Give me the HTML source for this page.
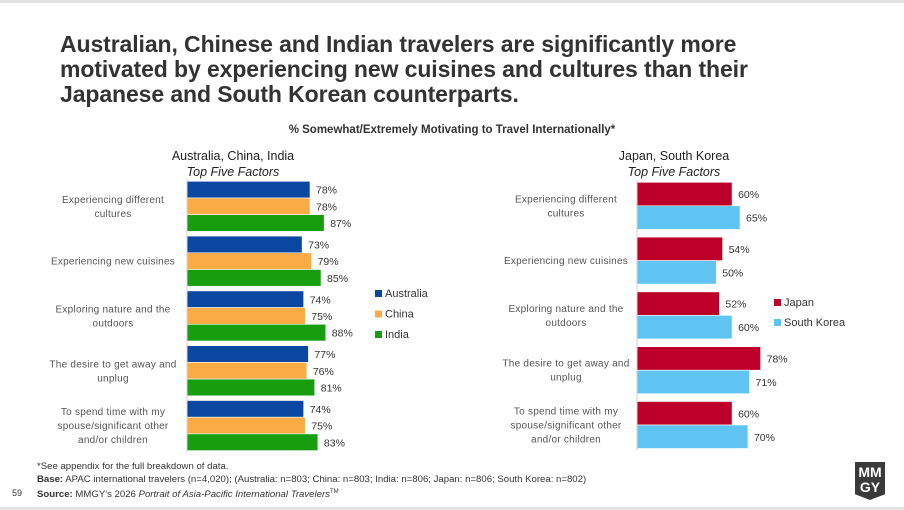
<!DOCTYPE html>
<html><head><meta charset="utf-8"><style>
body{margin:0;width:904px;height:510px;background:#fff;font-family:"Liberation Sans",sans-serif;overflow:hidden;position:relative}
.t{position:absolute;white-space:nowrap}
</style></head><body>
<div style="position:absolute;left:0;top:0;width:904px;height:3px;background:#e3e3e3"></div>
<div class="t" style="left:60px;top:32px;font-size:23px;font-weight:bold;line-height:25px;color:#333;letter-spacing:-0.1px">Australian, Chinese and Indian travelers are significantly more<br>motivated by experiencing new cuisines and cultures than their<br>Japanese and South Korean counterparts.</div>
<div class="t" style="left:0;width:904px;text-align:center;top:124px;font-size:11.5px;font-weight:bold;color:#333">% Somewhat/Extremely Motivating to Travel Internationally*</div>
<svg id="c" width="904" height="510" style="position:absolute;left:0;top:0" font-family="Liberation Sans, sans-serif"></svg>
<div class="t" style="left:37px;top:461px;font-size:9.6px;line-height:12.5px;color:#333">*See appendix for the full breakdown of data.<br><b>Base:</b> APAC international travelers (n=4,020); (Australia: n=803; China: n=803; India: n=806; Japan: n=806; South Korea: n=802)<br><b>Source:</b> MMGY's 2026 <i>Portrait of Asia-Pacific International Travelers</i><sup style="font-size:6px">TM</sup></div>
<div class="t" style="left:12px;top:488px;font-size:9px;color:#333">59</div>
<div style="position:absolute;left:855px;top:462px;width:30px;height:38px;background:#3a3a3a;color:#fff;font-weight:bold;font-size:14px;line-height:15px;text-align:center;padding-top:3px;box-sizing:border-box;clip-path:polygon(0 0,100% 0,100% 85%,50% 100%,0 85%)">MM<br>GY</div>
<div style="position:absolute;left:0;top:507px;width:904px;height:3px;background:#e3e3e3"></div>
<script>
const categories=["Experiencing different|cultures","Experiencing new cuisines","Exploring nature and the|outdoors","The desire to get away and|unplug","To spend time with my|spouse/significant other|and/or children"];
const australia=[78,73,74,77,74];
const china=[78,79,75,76,75];
const india=[87,85,88,81,83];
const japan=[60,54,52,78,60];
const southKorea=[65,50,60,71,70];
const NS="http://www.w3.org/2000/svg";
const svg=document.getElementById('c');
function el(tag,attrs,txt){const e=document.createElementNS(NS,tag);for(const k in attrs)e.setAttribute(k,attrs[k]);if(txt!==undefined)e.textContent=txt;svg.appendChild(e);return e;}
function drawChart(cfg){
  const x=v=>cfg.x0+v*cfg.scale;
  const gy=i=>cfg.top+i*54.8;
  let t=el('text',{x:cfg.titleX,y:160,'font-size':12.5,fill:'#222','text-anchor':'middle'},cfg.title);
  
  t=el('text',{x:cfg.titleX,y:176,'font-size':12.5,fill:'#222','text-anchor':'middle','font-style':'italic'},'Top Five Factors');
  
  categories.forEach((c,i)=>{
    const lines=c.split('|');
    const mid=gy(i)+cfg.bh*cfg.series.length/2;
    lines.forEach((ln,j)=>{
      const lt=el('text',{x:cfg.labelRight,y:mid+3.5+(j-(lines.length-1)/2)*14,'font-size':10,fill:'#555','text-anchor':'middle','letter-spacing':0.25},ln);
      
      
    });
    cfg.series.forEach((s,k)=>{
      const v=s.data[i];const y=gy(i)+k*cfg.bh;
      const r=el('rect',{x:cfg.x0,y:y,width:x(v)-cfg.x0,height:cfg.bh,fill:s.color,stroke:'#fff','stroke-width':0.6});
      
      
      const vt=el('text',{x:x(v)+6,y:y+cfg.bh/2+4,'font-size':10.5,fill:'#333'},v+'%');
      
      
    });
  });
  const ax=el('line',{x1:cfg.x0,x2:cfg.x0,y1:cfg.top-2,y2:gy(4)+cfg.bh*cfg.series.length+2,stroke:'#d0d0d0','stroke-width':1});
  
  cfg.series.forEach((s,k)=>{
    const ly=cfg.legY+k*cfg.legStep;
    const r=el('rect',{x:cfg.legX,y:ly-7,width:7,height:7,fill:s.color});
    
    const lt=el('text',{x:cfg.legX+10,y:ly,'font-size':11,fill:'#333'},s.name);
    
  });
}
drawChart({key:'apac-left',title:'Australia, China, India',titleX:233,x0:187,scale:1.577,top:181.3,bh:16.7,labelRight:113,legX:375,legY:297,legStep:20.5,
  series:[{name:'Australia',data:australia,color:'#0a47a1'},{name:'China',data:china,color:'#fbab44'},{name:'India',data:india,color:'#169e0e'}]});
drawChart({key:'apac-right',title:'Japan, South Korea',titleX:674,x0:637,scale:1.585,top:182.3,bh:23.5,labelRight:566,legX:774,legY:306,legStep:20,
  series:[{name:'Japan',data:japan,color:'#bd0029'},{name:'South Korea',data:southKorea,color:'#5fc4f2'}]});
</script>
</body></html>
